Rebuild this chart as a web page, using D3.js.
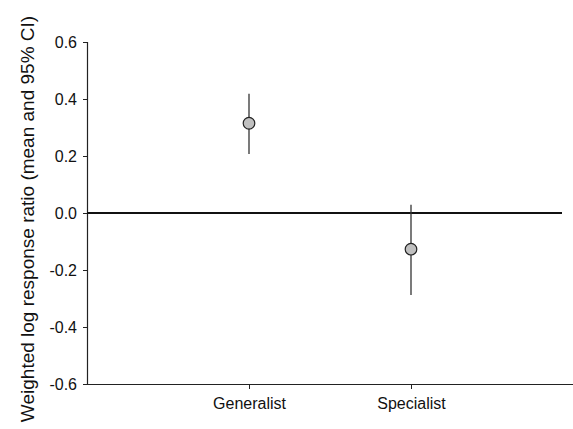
<!DOCTYPE html>
<html>
<head>
<meta charset="utf-8">
<script src="https://cdn.jsdelivr.net/npm/d3@7"></script>
<style>
  body { margin: 0; background: #fff; }
  svg { display: block; font-family: "Liberation Sans", Arial, sans-serif; }
</style>
</head>
<body>
<svg id="chart" width="573" height="429"></svg>
<script>
const categories = ["Generalist", "Specialist"];
const means = [0.315, -0.127];
const ciLower = [0.207, -0.288];
const ciUpper = [0.418, 0.029];
const yTicks = [-0.6, -0.4, -0.2, 0.0, 0.2, 0.4, 0.6];

const svg = d3.select("#chart");
const mLeft = 87, mRight = 573, mTop = 42, mBottom = 384;

const x = d3.scalePoint().domain(categories).range([mLeft, mRight]).padding(1);
const y = d3.scaleLinear().domain([-0.6, 0.6]).range([mBottom, mTop]);

const fmt = d => d.toFixed(1);

// y axis
const yAxis = svg.append("g").attr("transform", `translate(${mLeft},0)`)
  .call(d3.axisLeft(y).tickValues(yTicks).tickFormat(fmt).tickSize(4).tickPadding(6));
yAxis.attr("font-family", null).attr("font-size", null);
yAxis.select(".domain").attr("stroke", "#222").attr("stroke-width", 1.2);
yAxis.selectAll(".tick line").attr("stroke", "#222");
yAxis.selectAll(".tick text").attr("font-size", 16).attr("fill", "#111");

// x axis
const xAxis = svg.append("g").attr("transform", `translate(0,${mBottom})`)
  .call(d3.axisBottom(x).tickSize(5).tickSizeOuter(0).tickPadding(9));
xAxis.attr("font-family", null).attr("font-size", null);
xAxis.select(".domain").attr("stroke", "#222").attr("stroke-width", 1.2);
xAxis.selectAll(".tick line").attr("stroke", "#222");
xAxis.selectAll(".tick text").attr("font-size", 16).attr("fill", "#111");

// zero line
svg.append("line")
  .attr("x1", mLeft).attr("x2", 562)
  .attr("y1", y(0)).attr("y2", y(0))
  .attr("stroke", "#111").attr("stroke-width", 2.2);

// error bars
svg.selectAll(".err").data(categories).join("line")
  .attr("class", "err")
  .attr("x1", d => x(d)).attr("x2", d => x(d))
  .attr("y1", (d, i) => y(ciUpper[i])).attr("y2", (d, i) => y(ciLower[i]))
  .attr("stroke", "#333").attr("stroke-width", 1.3);

// points
svg.selectAll(".pt").data(categories).join("circle")
  .attr("class", "pt")
  .attr("cx", d => x(d)).attr("cy", (d, i) => y(means[i]))
  .attr("r", 5.8)
  .attr("fill", "#c0c0c0").attr("stroke", "#222").attr("stroke-width", 1.2);

// y label
svg.append("text")
  .attr("transform", `translate(34,219) rotate(-90)`)
  .attr("text-anchor", "middle")
  .attr("font-size", 19).attr("fill", "#111")
  .text("Weighted log response ratio (mean and 95% CI)");
</script>
</body>
</html>
